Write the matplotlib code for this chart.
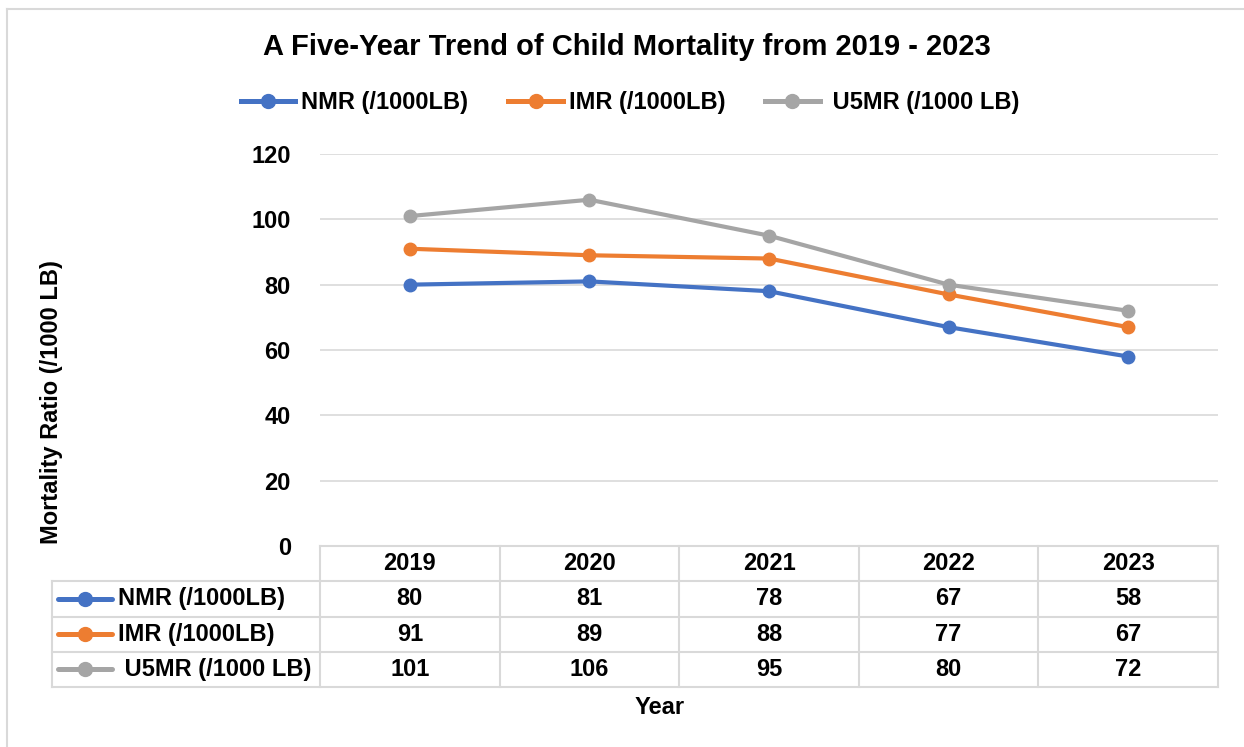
import matplotlib.pyplot as plt
from matplotlib.lines import Line2D

# datos del grafico
years = ['2019', '2020', '2021', '2022', '2023']
series_names = ['NMR (/1000LB)', 'IMR (/1000LB)', ' U5MR (/1000 LB)']
nmr = [80, 81, 78, 67, 58]
imr = [91, 89, 88, 77, 67]
u5mr = [101, 106, 95, 80, 72]
colors = ['#4472C4', '#ED7D31', '#A5A5A5']
values = [nmr, imr, u5mr]

plt.rcParams['font.family'] = ['Liberation Sans', 'DejaVu Sans']
plt.rcParams['font.weight'] = 'bold'

W, H = 1244, 747
fig = plt.figure(figsize=(W / 100, H / 100), dpi=100)

def fx(px):
    return px / W

def fy(py):
    return 1 - py / H

grid_c = '#d9d9d9'

# borde exterior del grafico
fig.add_artist(Line2D([fx(7), fx(7)], [fy(9), 0], color=grid_c, lw=1.5))
fig.add_artist(Line2D([fx(7), 1], [fy(9), fy(9)], color=grid_c, lw=1.5))

# area de trazado
left, right = 320, 1218
top, bottom = 154, 546
ax = fig.add_axes([fx(left), fy(bottom), fx(right) - fx(left), fy(top) - fy(bottom)])
x = [i + 0.5 for i in range(len(years))]
for name, vals, c in zip(series_names, values, colors):
    ax.plot(x, vals, color=c, lw=3, marker='o', markersize=9, label=name,
            solid_capstyle='round', zorder=3)
ax.set_xlim(0, len(years))
ax.set_ylim(0, 120)
ax.set_yticks(range(0, 121, 20))
ax.set_xticks([])
ax.grid(axis='y', color=grid_c, lw=1.2)
ax.set_axisbelow(True)
for s in ax.spines.values():
    s.set_visible(False)
ax.tick_params(axis='y', length=0, pad=21, labelsize=17)
for t in ax.get_yticklabels():
    t.set_fontweight('bold')

# tabla de datos
col_w = (right - left) / len(years)
tleft, ttop, tbot = 52, 546, 687
L = (left - tleft) / col_w
tax = fig.add_axes([fx(tleft), fy(tbot), fx(right) - fx(tleft), fy(ttop) - fy(tbot)])
tax.set_xlim(-L, len(years))
tax.set_ylim(4, 0)
tax.axis('off')
lw_t = 1.5
# lineas horizontales
tax.plot([0, len(years)], [0, 0], color=grid_c, lw=lw_t, clip_on=False)
for r in range(1, 5):
    tax.plot([-L, len(years)], [r, r], color=grid_c, lw=lw_t, clip_on=False)
# lineas verticales
for cidx in range(len(years) + 1):
    tax.plot([cidx, cidx], [0, 4], color=grid_c, lw=lw_t, clip_on=False)
tax.plot([-L, -L], [1, 4], color=grid_c, lw=lw_t, clip_on=False)

for i, yr in enumerate(years):
    tax.text(i + 0.5, 0.5, yr, ha='center', va='center', fontsize=17, fontweight='bold')
for r, (name, vals, c) in enumerate(zip(series_names, values, colors)):
    yrow = r + 1.5
    x0 = -L + 6 / col_w
    x1 = -L + 60 / col_w
    tax.plot([x0, x1], [yrow, yrow], color=c, lw=3.6, solid_capstyle='round', clip_on=False)
    tax.plot([(x0 + x1) / 2], [yrow], 'o', color=c, markersize=10, clip_on=False)
    tax.text(-L + 66 / col_w, yrow, name, ha='left', va='center', fontsize=17, fontweight='bold')
    for i, v in enumerate(vals):
        tax.text(i + 0.5, yrow, str(v), ha='center', va='center', fontsize=17, fontweight='bold')

# leyenda superior
handles = [Line2D([], [], color=c, lw=3.6, marker='o', markersize=10) for c in colors]
fig.legend(handles, series_names, loc='center', bbox_to_anchor=(fx(630), fy(103)),
           ncol=3, frameon=False, fontsize=17, handlelength=2.3, handletextpad=0.25,
           columnspacing=1.7, prop={'weight': 'bold', 'size': 17})

fig.text(fx(627), fy(47), 'A Five-Year Trend of Child Mortality from 2019 - 2023',
         ha='center', va='center', fontsize=21, fontweight='bold')
fig.text(fx(52), fy(402), 'Mortality Ratio (/1000 LB)', rotation=90,
         ha='center', va='center', fontsize=17, fontweight='bold')
fig.text(fx(660), fy(708), 'Year', ha='center', va='center', fontsize=17, fontweight='bold')

fig.savefig('out.png', dpi=100)
